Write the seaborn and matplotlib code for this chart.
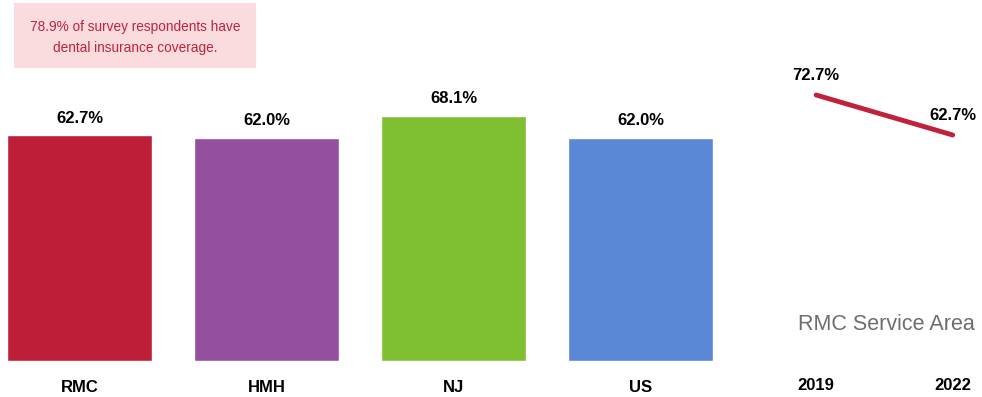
import matplotlib
matplotlib.use("Agg")
import matplotlib.pyplot as plt
import seaborn as sns
import pandas as pd
from matplotlib.patches import FancyBboxPatch

# bar data
regions = ["RMC", "HMH", "NJ", "US"]
dental_pct = [62.7, 62.0, 68.1, 62.0]
bar_colors = ["#BE1E37", "#92509E", "#80BF32", "#5B87D7"]

# trend data
years = ["2019", "2022"]
trend_pct = [72.7, 62.7]

callout = "78.9% of survey respondents have\ndental insurance coverage."

sns.set_style("white")
plt.rcParams["font.family"] = ["Liberation Sans Narrow", "Liberation Sans", "DejaVu Sans"]
plt.rcParams["text.color"] = "black"
plt.rcParams["xtick.color"] = "black"

fig = plt.figure(figsize=(9.82, 3.97), dpi=100)

# main bars
ax = fig.add_axes([4.7 / 982, 36 / 397, 710.6 / 982, 288 / 397])
df = pd.DataFrame({"Region": regions, "Pct": dental_pct})
sns.barplot(data=df, x="Region", y="Pct", hue="Region", palette=bar_colors,
            width=0.78, legend=False, ax=ax, saturation=1)
ax.set_xlim(-0.4, 3.4)
ax.set_ylim(0, 80)
for i, v in enumerate(dental_pct):
    ax.text(i, v + 2.6, f"{v:.1f}%", ha="center", va="bottom", fontsize=12, fontweight="bold")
ax.set_xlabel("")
ax.set_ylabel("")
ax.set_yticks([])
ax.tick_params(axis="x", length=0, pad=14, labelsize=12)
for lbl in ax.get_xticklabels():
    lbl.set_fontweight("bold")
sns.despine(ax=ax, left=True, bottom=True)

# trend line
ax2 = fig.add_axes([782 / 982, 36 / 397, 198 / 982, 288 / 397])
tdf = pd.DataFrame({"Year": [0, 1], "Pct": trend_pct})
sns.lineplot(data=tdf, x="Year", y="Pct", color="#C0223B", linewidth=3.5,
             solid_capstyle="round", ax=ax2)
ax2.set_xlim(-0.25, 1.2)
ax2.set_ylim(6.2, 78.2)
ax2.set_xticks([0, 1])
ax2.set_xticklabels(years)
ax2.tick_params(axis="x", length=0, pad=12, labelsize=12)
for lbl in ax2.get_xticklabels():
    lbl.set_fontweight("bold")
ax2.set_yticks([])
ax2.set_xlabel("")
ax2.set_ylabel("")
ax2.text(0, trend_pct[0] + 3.0, f"{trend_pct[0]:.1f}%", ha="center", va="bottom",
         fontsize=12, fontweight="bold")
ax2.text(1, trend_pct[1] + 3.0, f"{trend_pct[1]:.1f}%", ha="center", va="bottom",
         fontsize=12, fontweight="bold")
sns.despine(ax=ax2, left=True, bottom=True)

fig.text(886 / 982, 1 - 325 / 397, "RMC Service Area", ha="center", va="center",
         fontsize=15.5, color="#6E6E6E", family=["Liberation Sans", "DejaVu Sans"])

# callout box
box = FancyBboxPatch((14 / 982, 1 - 68 / 397), 242 / 982, 65 / 397,
                     boxstyle="square,pad=0", transform=fig.transFigure,
                     facecolor="#FADCDF", edgecolor="none")
fig.patches.append(box)
fig.text(135 / 982, 1 - 37.5 / 397, callout, ha="center", va="center",
         fontsize=9.8, color="#C0223B", linespacing=1.6)

fig.savefig("out.png", dpi=100)
